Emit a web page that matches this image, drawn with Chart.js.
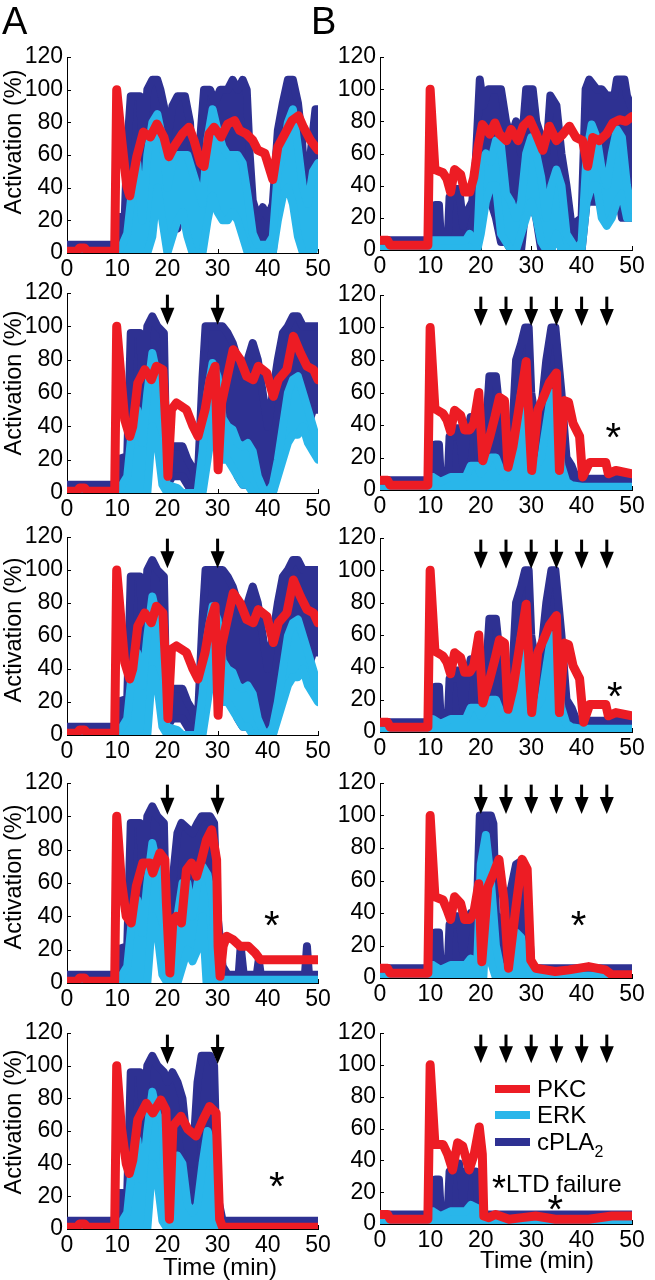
<!DOCTYPE html>
<html><head><meta charset="utf-8">
<script src="https://cdn.jsdelivr.net/npm/chart.js@4.4.1/dist/chart.umd.min.js"></script>
<style>
html,body{margin:0;padding:0;background:#fff;}
body{width:655px;height:1280px;position:relative;overflow:hidden;font-family:"Liberation Sans",Arial,sans-serif;color:#000;}
canvas{position:absolute;}
.t{position:absolute;white-space:nowrap;line-height:1;}
.rot{transform:translate(-50%,-50%) rotate(-90deg);}
.ctr{transform:translate(-50%,-50%);}
.sw{position:absolute;width:35px;height:8px;}
</style></head><body>
<script>
// ---------- tick labels ----------
const minuteTicks = [0, 10, 20, 30, 40, 50];
const activationTicks = [0, 20, 40, 60, 80, 100, 120];

// ---------- stimulus arrows (min) ----------
const arrowsA = [20, 30];
const arrowsB = [20, 25, 30, 35, 40, 45];

// ---------- data: [time (min), activation (%)] ----------
// Panel A1
const pkcA1 = [[0,1],[2,1],[2.5,3],[3.5,3],[4,1],[9.5,1],[9.9,100],[10.9,69],[11.9,41],[12.5,35],[13.9,59],[15.2,74],[16.6,71],[17.9,79],[19.3,71],[20.3,59],[21.3,65],[23,73],[24.3,77],[25.3,69],[26.6,55],[27.3,53],[28.3,73],[29.3,77],[30.7,71],[32,79],[33.4,81],[34.4,75],[35.7,73],[37,69],[38,63],[39.4,61],[41,45],[42,65],[43.4,73],[44.8,81],[46.1,84],[47.1,77],[48.5,69],[50,63]];
const erkHiA1 = [[0,0],[10,0],[11,5],[12,12],[13,40],[14,55],[15,20],[16,60],[17,80],[18,85],[19,70],[20,40],[21,55],[22,60],[23,60],[24,60],[25,50],[26,40],[27,30],[28,70],[29,88],[30,75],[31,65],[32,60],[33,60],[34,60],[35,55],[36,35],[37,12],[38,5],[40,5],[41,10],[42,50],[43,60],[44,80],[45,88],[46,65],[47,40],[48,30],[49,50],[50,55]];
const erkLoA1 = [[0,0],[16,0],[17,10],[18,40],[19,20],[20,0],[21,10],[22,20],[23,25],[24,10],[25,0],[27,0],[28,20],[29,35],[30,25],[31,20],[32,20],[33,25],[34,20],[35,10],[36,0],[41,0],[42,20],[43,35],[44,40],[45,30],[46,10],[47,0],[49,0],[50,10]];
const plaHiA1 = [[0,5],[9.5,5],[10,22],[11.5,22],[12,65],[12.7,96],[14.5,96],[15.2,60],[16,100],[17,106],[18,106],[18.6,100],[19.3,90],[20,70],[21,90],[22,96],[23.5,96],[24.5,80],[25.3,30],[26.3,60],[27.3,100],[28.5,100],[29.5,92],[30.5,100],[32,100],[33,106],[34,100],[35,106],[35.8,100],[36.4,60],[37,32],[38,22],[39,28],[40,22],[41,30],[42,75],[43,92],[44,106],[45,106],[46,92],[46.8,70],[47.5,35],[48.5,60],[49.5,88],[50,88]];
const plaLoA1 = [[0,0],[10,0],[12,5],[13,20],[14.5,20],[15.2,5],[16,30],[17,40],[18,40],[19,25],[20,5],[21,20],[22,15],[23,40],[24,30],[25,5],[26,0],[27,30],[28,40],[29,40],[30,30],[31,35],[35,35],[36,5],[37,0],[41,0],[42,40],[43,40],[44,50],[45,40],[46,20],[47,10],[48,20],[49,25],[50,30]];

// Panel B1
const pkcB1 = [[0,6],[1.5,6],[2,3],[9.5,3],[9.95,100],[10.9,50],[12.5,48],[13.3,44],[14,36],[14.8,50],[16,47],[16.8,36],[17.8,36],[18.6,45],[19.5,65],[20.3,78],[21.8,72],[22.8,79],[23.7,72],[25.1,68],[26,75],[27.4,68],[28.4,77],[29.7,81],[31,72],[32.3,62],[33.6,77],[35,68],[36.3,72],[37.6,77],[38.9,70],[40.2,68],[41.2,52],[42.2,70],[43.5,68],[44.9,72],[46.2,79],[47.5,81],[48.8,80],[50,83]];
const erkHiB1 = [[0,1],[10,1],[10.5,6],[17,6],[17.8,10],[18.8,5],[19.3,5],[20,55],[21,60],[22,55],[23,68],[24,65],[25,35],[26,30],[27,20],[28,30],[29,60],[30,70],[31,60],[32,45],[33,20],[34,40],[35,50],[36,40],[37,10],[38,5],[39,0],[40,5],[41,60],[42,78],[43,70],[44,50],[45,40],[46,60],[47,75],[48,70],[49,40],[50,25]];
const erkLoB1 = [[0,0],[19.3,0],[20,10],[21,30],[22,40],[23,40],[24,10],[25,5],[26,0],[27,0],[28,10],[29,20],[30,30],[31,20],[32,5],[33,0],[34,0],[35,10],[36,0],[40,0],[41,30],[42,40],[43,40],[44,20],[45,15],[46,20],[47,30],[48,35],[49,20],[50,20]];
const plaHiB1 = [[0,6],[9.5,6],[10,12],[10.8,12],[11,28],[11.7,28],[12,11],[13.5,11],[13.8,33],[14.7,33],[15,38],[15.7,38],[16,30],[16.5,15],[17,22],[18.3,30],[19,55],[19.8,106],[20.5,90],[21.5,100],[24,100],[25,80],[26,70],[27,80],[28,60],[29,100],[30.3,100],[31,80],[32,70],[33,60],[33.8,96],[35,90],[36,60],[37,40],[38,15],[40,20],[40.8,100],[41.5,106],[43,100],[44,100],[45,96],[46.5,96],[47,106],[48.5,106],[49,96],[50,88]];
const plaLoB1 = [[0,3],[19,3],[19.5,10],[20,30],[21,40],[22,30],[23,20],[24,5],[25,5],[26,0],[28,0],[29,30],[30,30],[31,20],[32,0],[34,0],[35,15],[36,0],[40,0],[41,30],[46,30],[47,40],[48,20],[50,20]];

// Panel A2
const pkcA2 = [[0,1],[2,1],[2.5,3],[3.5,3],[4,1],[9.5,1],[9.9,100],[10.8,68],[11.5,44],[12.5,34],[13.1,40],[14.1,66],[15.5,74],[16.8,68],[17.8,76],[19.1,74],[19.8,34],[20.1,10],[20.8,50],[21.8,54],[23.8,50],[25.1,40],[26.1,34],[27.5,50],[28.5,68],[29.5,76],[29.8,44],[30.1,14],[30.8,54],[31.8,68],[33.1,86],[34.5,80],[35.8,70],[37.1,68],[38.1,76],[39.8,72],[41.1,58],[42.1,68],[43.8,74],[45.1,94],[46.5,84],[47.8,76],[49.1,74],[50,68]];
const erkHiA2 = [[0,0],[10,0],[11,5],[12,10],[13,40],[14,50],[15,30],[16,60],[17,84],[18,70],[19,65],[19.8,5],[22,3],[23,0],[26,0],[27,25],[28,60],[29,78],[30,70],[31,45],[32,40],[33,38],[34,30],[35,28],[36,30],[37,25],[38,10],[39,3],[40,0],[41,5],[42,20],[43,40],[44,60],[45,68],[46,70],[47,60],[48,50],[49,40],[50,30]];
const erkLoA2 = [[0,0],[16,0],[17,40],[18,30],[19,5],[20,0],[27,0],[28,20],[29,40],[30,30],[31,20],[32,20],[33,15],[34,10],[35,5],[36,5],[37,0],[41,0],[42,10],[43,20],[44,30],[45,35],[46,35],[47,40],[48,30],[49,25],[50,20]];
const plaHiA2 = [[0,5],[9.5,5],[10,20],[12,22],[12.7,96],[14.5,96],[15.2,60],[16,100],[17,106],[18,100],[19.3,96],[19.8,20],[20.5,28],[23,28],[24,20],[25,15],[26,5],[27,70],[27.6,100],[31,100],[32,96],[33,90],[34,80],[35,70],[36,80],[37,90],[38,80],[39,60],[40,40],[41,60],[42,80],[43,96],[44,100],[45,106],[46,106],[47,100],[50,100]];
const plaLoA2 = [[0,0],[10,0],[11,10],[12,10],[13,20],[14,20],[15,0],[16,10],[17,40],[18,40],[19,20],[20,5],[21,10],[23,10],[24,5],[25,0],[26,0],[27,20],[28,40],[29,50],[30,50],[31,30],[32,30],[33,20],[34,10],[35,5],[38,5],[39,0],[41,0],[42,20],[43,40],[48,40],[49,50],[50,50]];

// Panel B2
const pkcB2 = [[0,6],[1.5,6],[2,3],[9.5,3],[9.95,100],[10.9,50],[12.5,47],[13.3,43],[14,36],[14.8,49],[16,46],[16.8,37],[17.8,37],[18.6,41],[19.6,60],[20.4,18],[21.8,33],[22.8,45],[23.7,57],[24.7,55],[25.4,14],[26.4,27],[27.7,53],[29,79],[29.6,40],[30.1,12],[31.3,49],[32.7,59],[33.6,66],[35,72],[35.6,12],[36.6,55],[37.4,54],[38.3,41],[39.6,33],[40.2,8],[41.6,17],[44.8,17],[45.3,10],[46.8,12],[50,10]];
const erkHiB2 = [[0,1],[10,1],[10.5,8],[12,5],[14,8],[17,8],[18,15],[19.3,15],[20,10],[22,20],[23,20],[24,12],[25,8],[26,15],[27,30],[28,60],[29,40],[30,20],[31,15],[32,20],[33,40],[34,60],[35,40],[36,15],[37,5],[38,3],[40,2],[50,2]];
const erkLoB2 = [[0,0],[50,0]];
const plaHiB2 = [[0,6],[9.5,6],[10,12],[10.8,12],[11,28],[11.7,28],[12,11],[13.5,11],[13.8,33],[14.7,33],[15,38],[15.7,38],[16,30],[16.5,15],[17,30],[18,45],[19,45],[19.5,20],[20,12],[21,35],[21.7,70],[23,70],[24,40],[25,20],[26,20],[27,80],[28,90],[28.8,100],[29.5,100],[30,60],[31,40],[32,50],[33,80],[34,100],[34.8,100],[36,60],[37,20],[38,15],[39,7],[50,7]];
const plaLoB2 = [[0,3],[19,3],[20,10],[21,5],[22,20],[23,15],[24,10],[25,5],[26,10],[27,20],[28,0],[29,0],[30,20],[31,10],[32,5],[33,20],[34,0],[35,10],[36,5],[37,3],[50,3]];

// Panel A3
const pkcA3 = [[0,1],[2,1],[2.5,3],[3.5,3],[4,1],[9.5,1],[9.9,100],[10.8,68],[11.5,44],[12.5,34],[13.1,40],[14.1,66],[15.5,74],[16.8,68],[17.8,78],[19.1,74],[19.8,34],[20.1,10],[20.8,52],[21.8,54],[23.8,50],[25.1,40],[26.1,34],[27.5,50],[28.5,68],[29.5,78],[29.8,44],[30.1,12],[30.8,54],[31.8,68],[33.1,86],[34.5,80],[35.8,70],[37.1,68],[38.1,76],[39.8,72],[41.1,56],[42.1,68],[43.8,74],[45.1,94],[46.5,84],[47.8,76],[49.1,74],[50,68]];
const erkHiA3 = [[0,0],[10,0],[11,5],[12,10],[13,40],[14,50],[15,30],[16,60],[17,84],[18,70],[19,65],[19.8,5],[22,3],[23,0],[26,0],[27,25],[28,60],[29,78],[30,70],[31,45],[32,40],[33,38],[34,30],[35,28],[36,30],[37,25],[38,10],[39,3],[40,0],[41,5],[42,20],[43,40],[44,60],[45,68],[46,70],[47,60],[48,50],[49,40],[50,30]];
const erkLoA3 = [[0,0],[16,0],[17,40],[18,30],[19,5],[20,0],[27,0],[28,20],[29,40],[30,30],[31,20],[32,20],[33,15],[34,10],[35,5],[36,5],[37,0],[41,0],[42,10],[43,20],[44,30],[45,35],[46,35],[47,40],[48,30],[49,25],[50,20]];
const plaHiA3 = [[0,5],[9.5,5],[10,20],[12,22],[12.7,96],[14.5,96],[15.2,60],[16,100],[17,106],[18,100],[19.3,96],[19.8,20],[20.5,28],[23,28],[24,20],[25,15],[26,5],[27,70],[27.6,100],[31,100],[32,96],[33,90],[34,80],[35,70],[36,80],[37,90],[38,80],[39,60],[40,40],[41,60],[42,80],[43,96],[44,100],[45,106],[46,106],[47,100],[50,100]];
const plaLoA3 = [[0,0],[10,0],[11,10],[12,10],[13,20],[14,20],[15,0],[16,10],[17,40],[18,40],[19,20],[20,5],[21,10],[23,10],[24,5],[25,0],[26,0],[27,20],[28,40],[29,50],[30,50],[31,30],[32,30],[33,20],[34,10],[35,5],[38,5],[39,0],[41,0],[42,20],[43,40],[48,40],[49,50],[50,50]];

// Panel B3
const pkcB3 = [[0,6],[1.5,6],[2,3],[9.5,3],[9.95,100],[10.9,50],[12.5,47],[13.3,43],[14,36],[14.8,49],[16,46],[16.8,37],[17.8,37],[18.6,41],[19.6,60],[20.4,18],[21.8,33],[22.8,45],[23.7,57],[24.7,55],[25.4,14],[26.4,27],[27.7,53],[29,79],[29.6,40],[30.1,12],[31.3,49],[32.7,59],[33.6,66],[35,72],[35.6,12],[36.6,55],[37.4,54],[38.3,41],[39.6,33],[40.4,6],[41.6,17],[44.8,17],[45.3,10],[46.8,12],[50,10]];
const erkHiB3 = [[0,1],[10,1],[10.5,8],[12,5],[14,8],[17,8],[18,15],[19.3,15],[20,10],[22,20],[23,20],[24,12],[25,8],[26,15],[27,30],[28,60],[29,40],[30,20],[31,15],[32,20],[33,40],[34,60],[35,40],[36,15],[37,5],[38,3],[40,2],[50,2]];
const erkLoB3 = [[0,0],[50,0]];
const plaHiB3 = [[0,6],[9.5,6],[10,12],[10.8,12],[11,28],[11.7,28],[12,11],[13.5,11],[13.8,33],[14.7,33],[15,38],[15.7,38],[16,30],[16.5,15],[17,30],[18,45],[19,45],[19.5,20],[20,12],[21,35],[21.7,70],[23,70],[24,40],[25,20],[26,20],[27,80],[28,90],[28.8,100],[29.5,100],[30,60],[31,40],[32,50],[33,80],[34,100],[34.8,100],[36,60],[37,20],[38,15],[39,7],[50,7]];
const plaLoB3 = [[0,3],[19,3],[20,10],[21,5],[22,20],[23,15],[24,10],[25,5],[26,10],[27,20],[28,0],[29,0],[30,20],[31,10],[32,5],[33,20],[34,0],[35,10],[36,5],[37,3],[50,3]];

// Panel A4
const pkcA4 = [[0,1],[2,1],[2.5,3],[3.5,3],[4,1],[9.5,1],[9.9,100],[10.8,62],[11.8,40],[12.8,36],[13.8,58],[15.1,72],[16.5,72],[17.1,66],[18.5,78],[19.5,74],[19.8,48],[20.5,6],[21.1,38],[21.8,40],[22.8,36],[23.8,68],[24.8,72],[25.8,64],[26.8,74],[27.8,86],[28.8,92],[29.8,74],[30.1,22],[30.5,4],[31.1,22],[31.8,28],[33.1,26],[34.5,22],[36.1,22],[37.5,18],[38.5,14],[50,14]];
const erkHiA4 = [[0,0],[10,0],[11,5],[12,10],[13,40],[14,50],[15,30],[16,60],[17,84],[18,70],[19,65],[19.8,5],[21,5],[22,40],[23,60],[24,60],[25,40],[26,60],[27,70],[28,65],[29,50],[29.8,5],[31,2],[50,2]];
const erkLoA4 = [[0,0],[16,0],[17,40],[18,30],[19,5],[20,0],[22,0],[23,10],[24,20],[25,13],[26,20],[27,40],[27.8,0],[50,0]];
const plaHiA4 = [[0,5],[9.5,5],[10,20],[12,22],[12.7,96],[14.5,96],[15.2,60],[16,100],[17,106],[18,100],[19.3,96],[19.8,30],[21,60],[22,90],[22.8,96],[25,90],[26,96],[26.8,100],[28.5,100],[29.3,96],[30,40],[31,10],[32,5],[34.2,5],[34.6,22],[35.2,5],[37.8,5],[38.2,14],[38.6,5],[47.4,5],[47.8,22],[48.2,5],[50,5]];
const plaLoA4 = [[0,0],[10,5],[12,5],[13,20],[14,20],[15,0],[16,10],[17,40],[18,40],[19,20],[20,5],[21,10],[22,30],[23,30],[24,20],[25,15],[26,30],[27,40],[28,20],[29,10],[30,2],[50,1]];

// Panel B4
const pkcB4 = [[0,6],[1.5,6],[2,3],[9.5,3],[9.95,100],[10.9,50],[12.5,48],[13.3,42],[14,36],[14.8,50],[16,46],[16.8,36],[17.8,36],[18.6,40],[19.6,58],[20.2,10],[21.4,56],[22.6,65],[23.6,73],[24.6,48],[25.5,6],[26.9,42],[28.2,73],[29.2,67],[29.9,11],[30.9,6],[34.8,4],[37.5,5],[41.4,7],[44.7,5],[46,2],[50,2]];
const erkHiB4 = [[0,1],[10,1],[10.5,8],[12,5],[14,8],[17,8],[18,12],[19.3,10],[20,70],[21,88],[22,60],[23,20],[24,5],[25,5],[26,15],[27,28],[28,25],[29,10],[30,2],[50,1]];
const erkLoB4 = [[0,0],[20.5,0],[21,30],[22,10],[23,0],[50,0]];
const plaHiB4 = [[0,6],[9.5,6],[10,12],[10.8,12],[11,28],[11.7,28],[12,11],[13.5,11],[13.8,33],[14.7,33],[15,38],[15.7,38],[16,30],[16.5,15],[17,30],[18,40],[19,20],[19.8,100],[22,100],[22.5,95],[23,40],[24,20],[25,50],[26,55],[27,70],[28,72],[29,60],[30,8],[31,6],[50,6]];
const plaLoB4 = [[0,3],[19,3],[19.5,10],[20,40],[21,60],[22,30],[23,10],[24,5],[25,20],[26,30],[27,20],[28,10],[29,5],[30,3],[50,3]];

// Panel A5
const pkcA5 = [[0,1],[2,1],[2.5,3],[3.5,3],[4,1],[9.5,1],[9.9,100],[10.8,63],[11.8,40],[12.4,34],[13.1,42],[14.1,67],[15.8,77],[17.1,71],[18.7,79],[19.7,73],[20.1,34],[20.4,6],[21.1,63],[22.7,69],[24.1,61],[25.7,57],[27.1,67],[28.4,75],[29.7,71],[30.4,6],[31,1],[50,1]];
const erkHiA5 = [[0,0],[10,0],[11,5],[12,10],[13,40],[14,55],[15,30],[16,60],[17,84],[18,70],[19,65],[19.8,5],[21,10],[22,45],[23,40],[24,15],[25,10],[26,15],[27,40],[28,60],[29,50],[29.8,5],[31,1],[50,1]];
const erkLoA5 = [[0,0],[16,0],[17,40],[18,30],[19,5],[20,0],[50,0]];
const plaHiA5 = [[0,5],[9.5,5],[10,22],[12,22],[12.7,96],[14.5,96],[15.2,70],[16,100],[17,106],[18,100],[19.3,96],[20,90],[21,96],[22,90],[23,80],[24,50],[25,40],[26,90],[26.8,106],[28.5,106],[29.3,100],[30,20],[31,5],[50,5]];
const plaLoA5 = [[0,0],[10,5],[12,5],[13,20],[14,20],[15,5],[16,10],[17,40],[18,40],[19,20],[20,5],[21,10],[22,20],[23,10],[24,5],[25,5],[26,10],[27,30],[28,30],[29,10],[30,2],[50,1]];

// Panel B5
const pkcB5 = [[0,6],[1.5,6],[2,3],[9.5,3],[9.95,100],[10.9,50],[12.5,50],[13.4,44],[14.4,34],[15.4,51],[16.4,49],[17.7,34],[18.7,44],[19.7,61],[20.3,44],[20.6,5],[21.6,4],[22.9,6],[25.6,3],[28.2,4],[30.9,5],[34.8,3],[41.4,3],[46,5],[50,5]];
const erkHiB5 = [[0,1],[10,1],[10.5,8],[12,5],[14,8],[17,8],[18,12],[19.3,10],[19.8,2],[50,1]];
const erkLoB5 = [[0,0],[50,0]];
const plaHiB5 = [[0,6],[9.5,6],[10,12],[10.8,12],[11,28],[11.7,28],[12,11],[13.5,11],[13.8,33],[14.7,33],[15,38],[15.7,38],[16,30],[16.5,15],[17,33],[19,33],[19.5,10],[19.8,6],[50,6]];
const plaLoB5 = [[0,3],[10,5],[19,5],[19.5,3],[50,3]];

// LTD-failure markers [time, activation]
const starA4 = [40.8, 40], starA5 = [41.8, 32], starB2 = [46.3, 38], starB3 = [46.6, 28], starB4 = [39.4, 38], starB5 = [34.8, 15];

// ---------- layout (plot-area pixel boxes: left, right, top, bottom) ----------
const panels = [
  {box:[67,318,57,253],  s:[pkcA1,erkHiA1,erkLoA1,plaHiA1,plaLoA1], arrows:[], star:null},
  {box:[380,632,57,250], s:[pkcB1,erkHiB1,erkLoB1,plaHiB1,plaLoB1], arrows:[], star:null},
  {box:[67,318,293,493], s:[pkcA2,erkHiA2,erkLoA2,plaHiA2,plaLoA2], arrows:arrowsA, star:null},
  {box:[380,632,295,490],s:[pkcB2,erkHiB2,erkLoB2,plaHiB2,plaLoB2], arrows:arrowsB, star:starB2},
  {box:[67,318,537,735], s:[pkcA3,erkHiA3,erkLoA3,plaHiA3,plaLoA3], arrows:arrowsA, star:null},
  {box:[380,632,538,732],s:[pkcB3,erkHiB3,erkLoB3,plaHiB3,plaLoB3], arrows:arrowsB, star:starB3},
  {box:[67,318,783,983], s:[pkcA4,erkHiA4,erkLoA4,plaHiA4,plaLoA4], arrows:arrowsA, star:starA4},
  {box:[380,632,783,978],s:[pkcB4,erkHiB4,erkLoB4,plaHiB4,plaLoB4], arrows:arrowsB, star:starB4},
  {box:[67,318,1033,1229],s:[pkcA5,erkHiA5,erkLoA5,plaHiA5,plaLoA5], arrows:arrowsA, star:starA5},
  {box:[380,632,1033,1224],s:[pkcB5,erkHiB5,erkLoB5,plaHiB5,plaLoB5], arrows:arrowsB, star:starB5}
];

const RED = '#ED1C24', CYAN = '#29B6EA', NAVY = '#2E3192';
const FONT = '"Liberation Sans", Arial, sans-serif';
Chart.defaults.font.family = FONT;
Chart.defaults.color = '#000';

const marks = {
  id: 'marks',
  beforeDatasetsDraw(chart) {
    const {ctx, scales:{x, y}} = chart;
    ctx.save(); ctx.strokeStyle = '#000'; ctx.lineWidth = 1;
    minuteTicks.forEach(v => { const px = Math.round(x.getPixelForValue(v)) + 0.5;
      ctx.beginPath(); ctx.moveTo(px, y.bottom); ctx.lineTo(px, y.bottom - 4); ctx.stroke(); });
    activationTicks.forEach(v => { const py = Math.round(y.getPixelForValue(v)) + 0.5;
      ctx.beginPath(); ctx.moveTo(x.left, py); ctx.lineTo(x.left + 4, py); ctx.stroke(); });
    ctx.restore();
  },
  afterDatasetsDraw(chart, args, opts) {
    const {ctx, scales:{x, y}} = chart;
    ctx.save(); ctx.fillStyle = '#000'; ctx.strokeStyle = '#000';
    (opts.arrows || []).forEach(t => {
      const px = x.getPixelForValue(t), top = y.getPixelForValue(119), tip = y.getPixelForValue(101);
      ctx.lineWidth = 3; ctx.beginPath(); ctx.moveTo(px, top); ctx.lineTo(px, tip - 14); ctx.stroke();
      ctx.beginPath(); ctx.moveTo(px - 7, tip - 17); ctx.lineTo(px + 7, tip - 17); ctx.lineTo(px, tip); ctx.closePath(); ctx.fill();
    });
    if (opts.star) {
      const px = x.getPixelForValue(opts.star[0]), py = y.getPixelForValue(opts.star[1]);
      ctx.font = '40px ' + FONT; ctx.textAlign = 'center'; ctx.textBaseline = 'alphabetic';
      ctx.fillText('*', px, py + 0.575 * 40);
    }
    ctx.restore();
  }
};
Chart.register(marks);

const W = 48, PT = 22, PR = 26, HX = 44;
panels.forEach(p => {
  const [l, r, t, b] = p.box;
  const cv = document.createElement('canvas');
  cv.width = W + (r - l) + PR; cv.height = PT + (b - t) + HX;
  cv.style.left = (l - W) + 'px'; cv.style.top = (t - PT) + 'px';
  document.body.appendChild(cv);
  const line = (data, color, width, extra) => Object.assign({data, borderColor:color, borderWidth:width, backgroundColor:color, fill:false}, extra || {});
  new Chart(cv, {
    type: 'line',
    data: { datasets: [
      line(p.s[0], RED, 9),
      line(p.s[1], CYAN, 8),
      line(p.s[2], CYAN, 8, {fill:'-1'}),
      line(p.s[3], NAVY, 8),
      line(p.s[4], NAVY, 8, {fill:'-1'})
    ]},
    options: {
      responsive:false, animation:false, devicePixelRatio:1, events:[],
      layout:{padding:{left:0, top:PT, right:PR, bottom:0}},
      elements:{point:{radius:0}, line:{tension:0, borderJoinStyle:'round', borderCapStyle:'round'}},
      plugins:{legend:{display:false}, tooltip:{enabled:false}, marks:{arrows:p.arrows, star:p.star}},
      scales:{
        x:{type:'linear', min:0, max:50,
           afterBuildTicks:s => { s.ticks = minuteTicks.map(v => ({value:v})); },
           afterFit:s => { s.height = HX; },
           ticks:{autoSkip:false, maxRotation:0, padding:3, font:{size:23}, color:'#000', callback:v => String(v)},
           grid:{display:false, drawTicks:false}, border:{display:true, color:'#000', width:1}},
        y:{type:'linear', min:0, max:120,
           afterBuildTicks:s => { s.ticks = activationTicks.map(v => ({value:v})); },
           afterFit:s => { s.width = W; },
           ticks:{padding:4, font:{size:23}, color:'#000', callback:v => String(v)},
           grid:{display:false, drawTicks:false}, border:{display:true, color:'#000', width:1}}
      }
    }
  });
});

// ---------- text ----------
function txt(html, css) { const d = document.createElement('div'); d.className = 't ' + (css.cls || ''); d.innerHTML = html;
  Object.assign(d.style, css.style); document.body.appendChild(d); return d; }
txt('A', {style:{left:'2px', top:'2px', fontSize:'38px'}});
txt('B', {style:{left:'311px', top:'2px', fontSize:'38px'}});
[142, 383, 630, 877, 1122].forEach(cy => txt('Activation (%)', {cls:'rot', style:{left:'14px', top:cy+'px', fontSize:'23.5px'}}));
txt('Time (min)', {cls:'ctr', style:{left:'220px', top:'1267px', fontSize:'24px'}});
txt('Time (min)', {cls:'ctr', style:{left:'537px', top:'1260px', fontSize:'24px'}});

// legend
[[RED, 1089, 'PKC'], [CYAN, 1115, 'ERK'], [NAVY, 1142, 'cPLA<sub style="font-size:16px;vertical-align:-7px">2</sub>']].forEach(([c, cy, label]) => {
  const s = document.createElement('div'); s.className = 'sw'; s.style.background = c; s.style.left = '495px'; s.style.top = (cy - 4) + 'px'; document.body.appendChild(s);
  txt(label, {style:{left:'537px', top:(cy - 12) + 'px', fontSize:'24px'}});
});
txt('<span style="font-size:36px;position:relative;top:9px">*</span>LTD failure', {style:{left:'492px', top:'1162px', fontSize:'24px'}});
</script>
</body></html>
